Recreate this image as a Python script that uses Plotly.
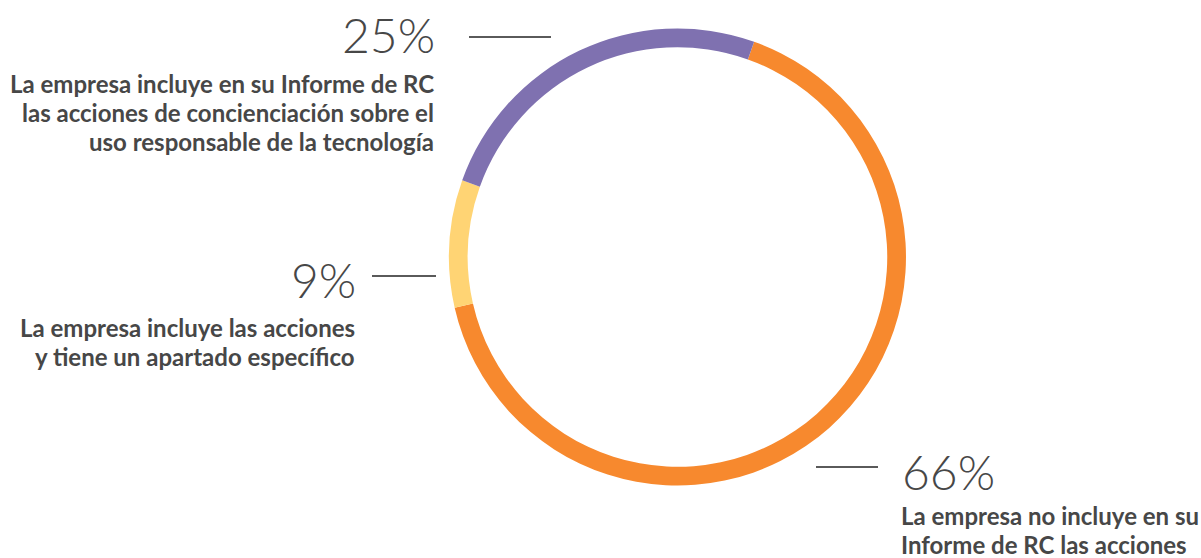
import plotly.graph_objects as go

# Share of companies by how their CSR report covers responsible-technology awareness actions
categories = [
    "La empresa no incluye en su Informe de RC las acciones",
    "La empresa incluye las acciones y tiene un apartado específico",
    "La empresa incluye en su Informe de RC las acciones de concienciación sobre el uso responsable de la tecnología",
]
values = [66, 9, 25]
colors = ["#F7892E", "#FFD474", "#7F71B0"]

pct_labels = [f"{v}%" for v in values]
desc_lines = [
    ["La empresa no incluye en su", "Informe de RC las acciones"],
    ["La empresa incluye las acciones", "y tiene un apartado específico"],
    ["La empresa incluye en su Informe de RC",
     "las acciones de concienciación sobre el",
     "uso responsable de la tecnología"],
]

W, H = 1201, 558
TEXT = "#474747"
LINE = "#5a5a5a"
PCT_SIZE = 48
DESC_SIZE = 24
DESC_STEP = 29  # baseline-to-baseline distance of description lines, px

fig = go.Figure(
    go.Pie(
        labels=categories,
        values=values,
        marker=dict(colors=colors, line=dict(width=0)),
        hole=0.918,
        sort=False,
        direction="clockwise",
        rotation=19.6,
        textinfo="none",
        hoverinfo="label+percent",
        domain=dict(x=[0.3738, 0.7544], y=[0.1299, 0.9489]),
        showlegend=False,
    )
)


def px(x):
    return x / W


def py(y):
    return 1 - y / H


annotations = []
shapes = []

# label layout per slice: (anchor x, side, percent centre y, first description centre y, leader line)
placements = [
    dict(x=900, side="left", pct_y=471, desc_y=515, line=(816, 878, 467)),
    dict(x=356, side="right", pct_y=279, desc_y=327.5, line=(372, 436, 276)),
    dict(x=435, side="right", pct_y=35, desc_y=83.5, line=(469, 551, 37)),
]

for pct, lines, p in zip(pct_labels, desc_lines, placements):
    nudge = 1 if p["side"] == "left" else 1
    annotations.append(dict(x=px(p["x"] + nudge), y=py(p["pct_y"]), xanchor=p["side"],
                            yanchor="middle", text=pct,
                            font=dict(size=PCT_SIZE, weight=300)))
    for i, line in enumerate(lines):
        annotations.append(dict(x=px(p["x"]), y=py(p["desc_y"] + i * DESC_STEP),
                                xanchor=p["side"], yanchor="middle", align=p["side"],
                                text=line, font=dict(size=DESC_SIZE, weight=700)))
    x0, x1, yl = p["line"]
    shapes.append(dict(x0=px(x0), x1=px(x1), y0=py(yl), y1=py(yl)))

for a in annotations:
    a.update(xref="paper", yref="paper", showarrow=False, borderpad=0)
    a["font"].update(family="Lato", color=TEXT)
for s in shapes:
    s.update(type="line", xref="paper", yref="paper", line=dict(color=LINE, width=2))

fig.update_layout(
    width=W,
    height=H,
    margin=dict(l=0, r=0, t=0, b=0),
    paper_bgcolor="white",
    plot_bgcolor="white",
    annotations=annotations,
    shapes=shapes,
)

fig.write_html("out.html")
